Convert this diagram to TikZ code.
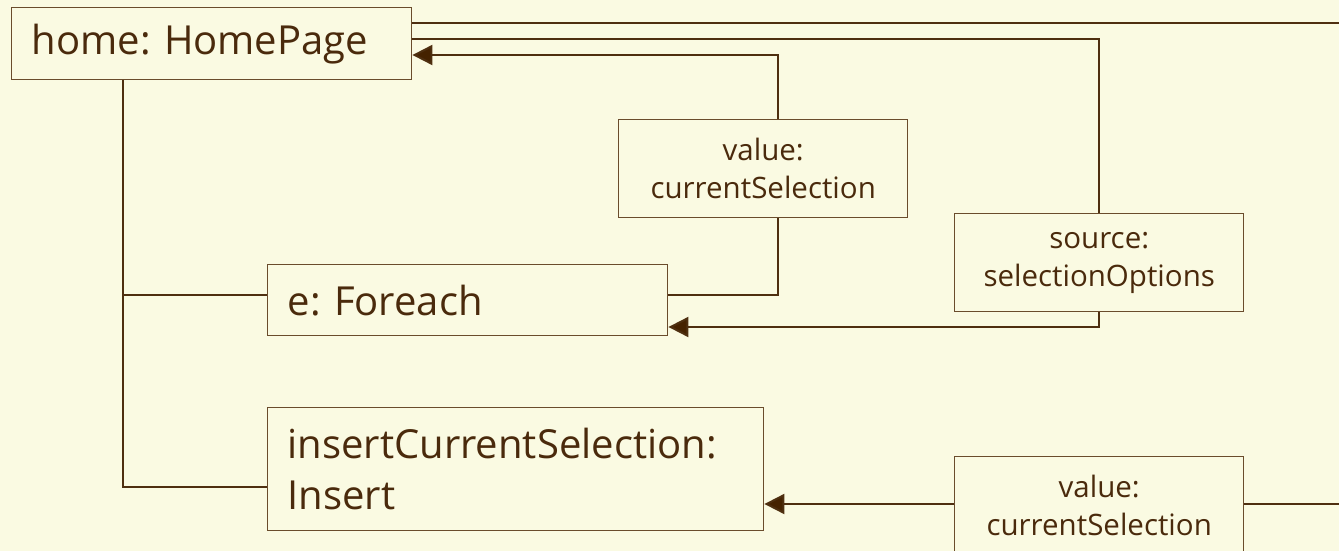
\documentclass[tikz,border=0pt]{standalone}
\usepackage{fontspec}
\setmainfont{Open Sans}
\usetikzlibrary{arrows.meta,calc}
\definecolor{paper}{HTML}{FAFAE2}
\definecolor{ink}{HTML}{4A2A0C}
\definecolor{boxline}{HTML}{6A4C2C}
\definecolor{wire}{HTML}{4E2F10}
\definecolor{tip}{HTML}{452200}
\tikzset{
  obj/.style={draw=boxline, line width=1.4pt, fill=paper, text=ink, anchor=north west,
    inner xsep=20pt, inner ysep=0pt, align=left,
    font=\fontsize{40}{51}\selectfont\frenchspacing},
  slot/.style={draw=boxline, line width=1.4pt, fill=paper, text=ink, anchor=north west,
    inner xsep=6pt, inner ysep=0pt, align=center, minimum width=289pt, minimum height=98pt,
    text width=277pt, font=\fontsize{29.5}{38}\selectfont\frenchspacing},
  wireline/.style={draw=wire, line width=2pt},
  link/.style={wireline, -{Triangle[length=20pt,width=20pt,fill=tip]}}
}
\begin{document}
\begin{tikzpicture}[x=1pt,y=-1pt]
  \fill[paper] (0,0) rectangle (1339,551);
  \useasboundingbox (0,0) rectangle (1339,551);

  % object boxes
  \node[obj, minimum width=400pt, minimum height=72pt, text width=360pt] (home) at (11,7) {home: HomePage};
  \node[obj, minimum width=400pt, minimum height=71pt, text width=360pt] (each) at (267,264) {e: Foreach};
  \node[obj, minimum width=496pt, minimum height=123pt, text width=456pt] (ins) at (267,407) {insertCurrentSelection:\\Insert};

  % binding boxes
  \node[slot] (val1) at (618,119) {value:\\currentSelection};
  \node[slot] (src) at (954,213) {source:\\selectionOptions};
  \node[slot] (val2) at (954,456) {value:\\currentSelection};

  % helper rows and free ends
  \coordinate (r23) at (0,23);
  \coordinate (r39) at (0,39);
  \coordinate (r55) at (0,55);
  \coordinate (r295) at (0,295);
  \coordinate (r327) at (0,327);
  \coordinate (r487) at (0,487);
  \coordinate (r504) at (0,504);
  \coordinate (trunk) at (123,0);
  \coordinate (c778) at (778,0);
  \coordinate (c1099) at (1099,0);
  \coordinate (endA) at (1339,23);
  \coordinate (endB) at (1339,504);

  % containment tree on the left
  \draw[wireline] (trunk |- home.south) -- (trunk |- r487) -- (ins.west |- r487);
  \draw[wireline] (trunk |- r295) -- (each.west |- r295);

  % bindings
  \draw[wireline] (home.east |- r23) -- (endA);
  \draw[wireline] (home.east |- r39) -- (c1099 |- r39) -- (c1099 |- src.north);
  \draw[link] (c778 |- val1.north) -- (c778 |- r55) -- (home.east |- r55);
  \draw[wireline] (c778 |- val1.south) -- (c778 |- r295) -- (each.east |- r295);
  \draw[link] (c1099 |- src.south) -- (c1099 |- r327) -- (each.east |- r327);
  \draw[link] (val2.west |- r504) -- (ins.east |- r504);
  \draw[wireline] (val2.east |- r504) -- (endB);
\end{tikzpicture}
\end{document}
